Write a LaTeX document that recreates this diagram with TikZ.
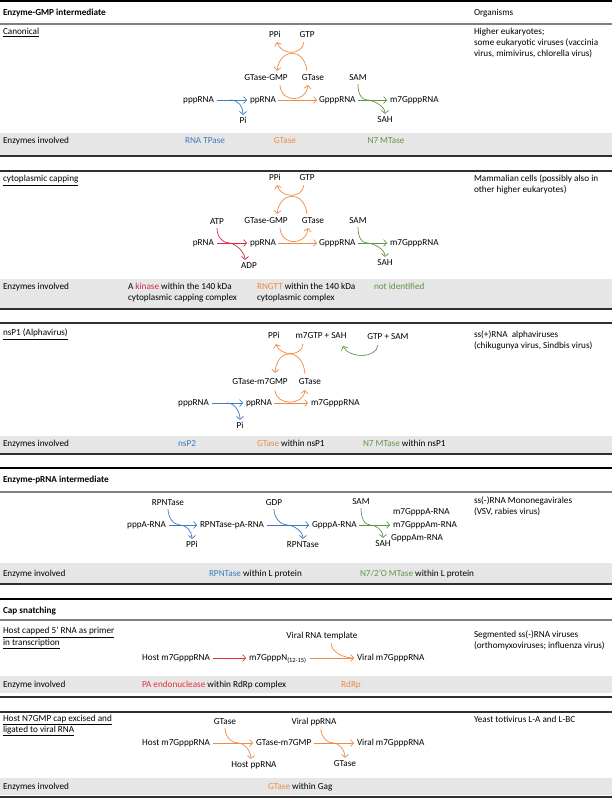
\documentclass[tikz,border=0pt]{standalone}
\usepackage{fontspec}
\setmainfont{Carlito}
\usetikzlibrary{arrows.meta}
\definecolor{cblue}{HTML}{3E7BC1}
\definecolor{corange}{HTML}{EE8A45}
\definecolor{cgreen}{HTML}{5F9548}
\definecolor{cred}{HTML}{E8303A}
\definecolor{ckin}{HTML}{D22C4A}
\definecolor{bandc}{HTML}{E6E6E6}
\definecolor{midc}{HTML}{808080}
\definecolor{rulec}{HTML}{303030}
\newcommand\fsz{\fontsize{9.2}{11.2}\selectfont}
\begin{document}
\begin{tikzpicture}[x=1pt,y=-1pt,
  base/.style={inner sep=0pt, outer sep=0pt, font=\fsz},
  lbl/.style={base, text height=7pt, text depth=1.2pt},
  lt/.style={lbl, anchor=west},
  ltm/.style={base, anchor=west, align=left},
  hd/.style={lt, font=\fsz\bfseries},
  arr/.style={line width=0.7pt, -{Straight Barb[length=3pt,width=7pt]}},
  ln/.style={line width=0.7pt},
  rulek/.style={line width=1.2pt, draw=black},
  ruleg/.style={line width=1.2pt, draw=midc},
  ruled/.style={line width=1.2pt, draw=rulec},
]
\useasboundingbox (0,0) rectangle (612,799);
\fill[white] (0,0) rectangle (612,799);

% ================= Section 1 =================
\fill[bandc] (0,133) rectangle (612,155);
\draw[rulek] (0,1) -- (612,1);
\node[hd] (h1) at (3,13) {Enzyme-GMP intermediate};
\node[lt] (orgh) at (474,13) {Organisms};
\draw[ruleg] (0,24) -- (612,24);
\node[lt] (t1) at (3,32) {\underline{Canonical}};
\node[ltm] (o1) at (474,43) {Higher eukaryotes;\\some eukaryotic viruses (vaccinia\\virus, mimivirus, chlorella virus)};

\node[lbl, anchor=east] (a1) at (214,100) {pppRNA};
\node[lbl, anchor=west] (b1) at (250,100) {ppRNA};
\node[lbl] (pi1) at (243,121) {Pi};
\node[lbl] (ppi1) at (275,35) {PPi};
\node[lbl] (gtp1) at (307,35) {GTP};
\node[lbl] (gg1) at (266,78) {GTase-GMP};
\node[lbl] (gt1) at (313,78) {GTase};
\node[lbl, anchor=west] (c1) at (319,100) {GpppRNA};
\node[lbl] (sam1) at (358,78) {SAM};
\node[lbl, anchor=west] (d1) at (390,100) {m7GpppRNA};
\node[lbl] (sah1) at (385,120) {SAH};
\coordinate (sm1) at (367,100);

\draw[arr, cblue] ([xshift=3pt]a1.east) -- ([xshift=-3pt]b1.west);
\draw[arr, cblue] ([xshift=-20pt]b1.west) .. controls +(9,0) and +(0,-8) .. ([yshift=2pt]pi1.north);
\draw[arr, corange] ([xshift=2pt]b1.east) -- ([xshift=-2pt]c1.west);
\draw[arr, corange] ([shift={(-3,3)}]gtp1.south) .. controls +(-2,14) and +(4,13) .. ([shift={(2,3)}]ppi1.south);
\draw[arr, corange] ([shift={(-6,-3)}]gt1.north) .. controls +(-3,-24) and +(3,-23) .. ([shift={(11,-3)}]gg1.north);
\draw[arr, corange] ([shift={(14,3)}]gg1.south) .. controls +(1,18) and +(-2,18) .. ([shift={(-5,3)}]gt1.south);
\draw[arr, cgreen] ([xshift=2pt]c1.east) -- ([xshift=-3pt]d1.west);
\draw[arr, cgreen] ([yshift=-2pt]sam1.south) .. controls +(0,9) and +(-6,0) .. (sm1) .. controls +(6,0) and +(0,-8) .. ([yshift=2pt]sah1.north);

\node[lt] (e1) at (3,141) {Enzymes involved};
\node[lbl, text=cblue] (e1a) at (205,141) {RNA TPase};
\node[lbl, text=corange] (e1b) at (285,141) {GTase};
\node[lbl, text=cgreen] (e1c) at (386,141) {N7 MTase};
\draw[ruled] (0,156) -- (612,156);

% ================= Section 2 =================
\fill[bandc] (0,279) rectangle (612,308);
\draw[ruled] (0,171) -- (612,171);
\node[lt] (t2) at (3,179) {\underline{cytoplasmic capping}};
\node[ltm] (o2) at (474,184.5) {Mammalian cells (possibly also in\\other higher eukaryotes)};

\node[lbl] (atp2) at (217,222) {ATP};
\node[lbl, anchor=east] (a2) at (214,243) {pRNA};
\node[lbl, anchor=west] (b2) at (250,243) {ppRNA};
\node[lbl] (adp2) at (249,266) {ADP};
\node[lbl] (ppi2) at (275,178) {PPi};
\node[lbl] (gtp2) at (307,178) {GTP};
\node[lbl] (gg2) at (266,221) {GTase-GMP};
\node[lbl] (gt2) at (313,221) {GTase};
\node[lbl, anchor=west] (c2) at (319,243) {GpppRNA};
\node[lbl] (sam2) at (358,221) {SAM};
\node[lbl, anchor=west] (d2) at (390,243) {m7GpppRNA};
\node[lbl] (sah2) at (385,263) {SAH};
\coordinate (km2) at (229,243);
\coordinate (sm2) at (367,243);

\draw[arr, ckin] ([xshift=3pt]a2.east) -- ([xshift=-3pt]b2.west);
\draw[arr, ckin] ([yshift=-2pt]atp2.south) .. controls +(0,9) and +(-6,0) .. (km2) .. controls +(6,0) and +(0,-8) .. ([shift={(-4,-2)}]adp2.north);
\draw[arr, corange] ([xshift=2pt]b2.east) -- ([xshift=-2pt]c2.west);
\draw[arr, corange] ([shift={(-3,3)}]gtp2.south) .. controls +(-2,14) and +(4,13) .. ([shift={(2,3)}]ppi2.south);
\draw[arr, corange] ([shift={(-6,-3)}]gt2.north) .. controls +(-3,-24) and +(3,-23) .. ([shift={(11,-3)}]gg2.north);
\draw[arr, corange] ([shift={(14,3)}]gg2.south) .. controls +(1,18) and +(-2,18) .. ([shift={(-5,3)}]gt2.south);
\draw[arr, cgreen] ([xshift=2pt]c2.east) -- ([xshift=-3pt]d2.west);
\draw[arr, cgreen] ([yshift=-2pt]sam2.south) .. controls +(0,9) and +(-6,0) .. (sm2) .. controls +(6,0) and +(0,-8) .. ([yshift=2pt]sah2.north);

\node[lt] (e2) at (3,287) {Enzymes involved};
\node[ltm] (e2a) at (128,292.5) {A \textcolor{ckin}{kinase} within the 140 kDa\\cytoplasmic capping complex};
\node[ltm] (e2b) at (257,292.5) {\textcolor{corange}{RNGTT} within the 140 kDa\\cytoplasmic complex};
\node[lt, text=cgreen] (e2c) at (374,287) {not identified};
\draw[ruled] (0,309) -- (612,309);

% ================= Section 3 =================
\fill[bandc] (0,436) rectangle (612,453);
\draw[ruled] (0,323) -- (612,323);
\node[lt] (t3) at (3,333) {\underline{nsP1 (Alphavirus)}};
\node[ltm] (o3) at (474,340.5) {ss(+)RNA\ \ alphaviruses\\(chikugunya virus, Sindbis virus)};

\node[lbl] (ppi3) at (274,336) {PPi};
\node[lbl] (mgs3) at (321,336) {m7GTP + SAH};
\node[lbl] (gs3) at (388,337) {GTP + SAM};
\node[lbl] (gg3) at (260,382) {GTase-m7GMP};
\node[lbl] (gt3) at (310,382) {GTase};
\node[lbl, anchor=east] (a3) at (209,403) {pppRNA};
\node[lbl, anchor=west] (b3) at (246,403) {ppRNA};
\node[lbl] (pi3) at (240,426) {Pi};
\node[lbl, anchor=west] (c3) at (311,403) {m7GpppRNA};

\draw[arr, cblue] ([xshift=3pt]a3.east) -- ([xshift=-3pt]b3.west);
\draw[arr, cblue] ([xshift=-19pt]b3.west) .. controls +(8,0) and +(0,-8) .. ([yshift=2pt]pi3.north);
\draw[arr, corange] ([xshift=2pt]b3.east) -- ([xshift=-3pt]c3.west);
\draw[arr, corange] ([shift={(-18,4)}]mgs3.south) .. controls +(-1,13) and +(4,12) .. ([shift={(2,4)}]ppi3.south);
\draw[arr, corange] ([shift={(-5,-4)}]gt3.north) .. controls +(-2,-26) and +(2,-26) .. ([shift={(15,-5)}]gg3.north);
\draw[arr, corange] ([shift={(15,4)}]gg3.south) .. controls +(1,16) and +(-2,16) .. ([shift={(-5,4)}]gt3.south);
\draw[arr, cgreen] ([shift={(-10,4)}]gs3.south) .. controls +(-2,14) and +(6,12) .. ([shift={(22,6)}]mgs3.south);

\node[lt] (e3) at (3,444) {Enzymes involved};
\node[lbl, text=cblue] (e3a) at (187,444) {nsP2};
\node[lt] (e3b) at (257,444) {\textcolor{corange}{GTase} within nsP1};
\node[lt] (e3c) at (363,444) {\textcolor{cgreen}{N7 MTase} within nsP1};
\draw[ruled] (0,454) -- (612,454);

% ================= Section 4 =================
\fill[bandc] (0,563) rectangle (612,583);
\draw[rulek] (0,468) -- (612,468);
\node[hd] (h4) at (3,480) {Enzyme-pRNA intermediate};
\draw[ruleg] (0,492) -- (612,492);
\node[ltm] (o4) at (474,506.5) {ss(-)RNA Mononegavirales\\(VSV, rabies virus)};

\node[lbl] (rp4) at (168,503) {RPNTase};
\node[lbl, anchor=east] (a4) at (166,525) {pppA-RNA};
\node[lbl, anchor=west] (b4) at (200,525) {RPNTase-pA-RNA};
\node[lbl] (ppi4) at (192,545) {PPi};
\node[lbl] (gdp4) at (274,503) {GDP};
\node[lbl] (rpb4) at (303,545) {RPNTase};
\node[lbl, anchor=west] (c4) at (312,525) {GpppA-RNA};
\node[lbl] (sam4) at (361,502) {SAM};
\node[lbl] (sah4) at (383,544) {SAH};
\node[lbl, anchor=west] (d4a) at (393,512) {m7GpppA-RNA};
\node[lbl, anchor=west] (d4b) at (393,525) {m7GpppAm-RNA};
\node[lbl, anchor=west] (d4c) at (391,537.5) {GpppAm-RNA};
\coordinate (rm4) at (180,525);
\coordinate (gm4) at (287,525);
\coordinate (sm4) at (370,525);

\draw[arr, cblue] ([xshift=3pt]a4.east) -- ([xshift=-3pt]b4.west);
\draw[arr, cblue] ([yshift=-2pt]rp4.south) .. controls +(0,9) and +(-6,0) .. (rm4) .. controls +(6,0) and +(0,-8) .. ([yshift=2pt]ppi4.north);
\draw[arr, cblue] ([xshift=3pt]b4.east) -- ([xshift=-3pt]c4.west);
\draw[arr, cblue] ([yshift=-2pt]gdp4.south) .. controls +(0,9) and +(-6,0) .. (gm4) .. controls +(6,0) and +(0,-8) .. ([yshift=2pt]rpb4.north);
\draw[arr, cgreen] ([xshift=2pt]c4.east) -- ([xshift=-3pt]d4b.west);
\draw[arr, cgreen] ([yshift=-2pt]sam4.south) .. controls +(0,9) and +(-6,0) .. (sm4) .. controls +(6,0) and +(0,-8) .. ([yshift=2pt]sah4.north);

\node[lt] (e4) at (3,574) {Enzyme involved};
\node[lt] (e4a) at (209,574) {\textcolor{cblue}{RPNTase} within L protein};
\node[lt] (e4b) at (360,574) {\textcolor{cgreen}{N7/2’O MTase} within L protein};
\draw[ruled] (0,584) -- (612,584);

% ================= Section 5 =================
\fill[bandc] (0,676) rectangle (612,693);
\draw[rulek] (0,599) -- (612,599);
\node[hd] (h5) at (3,611) {Cap snatching};
\draw[ruleg] (0,620) -- (612,620);
\node[ltm] (t5) at (3,638) {\underline{Host capped 5’ RNA as primer}\\\underline{in transcription}};
\node[ltm] (o5) at (474,640.5) {Segmented ss(-)RNA viruses\\(orthomyxoviruses; influenza virus)};

\node[lbl] (vt5) at (322,636) {Viral RNA template};
\node[lbl, anchor=east] (h5a) at (210,658) {Host m7GpppRNA};
\node[lbl, anchor=west] (n5) at (249,658) {m7GpppN\textsubscript{(12-15)}};
\node[lbl, anchor=west] (v5) at (357,658) {Viral m7GpppRNA};

\draw[arr, cred] ([xshift=3pt]h5a.east) -- ([xshift=-3pt]n5.west);
\draw[arr, corange] ([xshift=3pt]n5.east) -- ([xshift=-3pt]v5.west);
\draw[ln, corange] ([shift={(9,3)}]vt5.south) .. controls +(0,9) and +(-9,0) .. ([xshift=-4pt]v5.west);

\node[lt] (e5) at (3,685) {Enzyme involved};
\node[lt] (e5a) at (142,685) {\textcolor{cred}{PA endonuclease} within RdRp complex};
\node[lbl, text=corange] (e5b) at (351,685) {RdRp};
\draw[ruled] (0,697) -- (612,697);

% ================= Section 6 =================
\fill[bandc] (0,778) rectangle (612,795);
\draw[ruled] (0,712) -- (612,712);
\node[ltm] (t6) at (3,725.5) {\underline{Host N7GMP cap excised and}\\\underline{ligated to viral RNA}};
\node[lt] (o6) at (474,720) {Yeast totivirus L-A and L-BC};

\node[lbl] (gt6) at (225,722) {GTase};
\node[lbl, anchor=east] (h6) at (210,743) {Host m7GpppRNA};
\node[lbl, anchor=west] (g6) at (256,743) {GTase-m7GMP};
\node[lbl] (hp6) at (254,765) {Host ppRNA};
\node[lbl] (vp6) at (314,722) {Viral ppRNA};
\node[lbl, anchor=west] (v6) at (357,743) {Viral m7GpppRNA};
\node[lbl] (gt6b) at (345,764) {GTase};
\coordinate (gm6) at (238,743);
\coordinate (vm6) at (333,743);

\draw[arr, corange] ([xshift=3pt]h6.east) -- ([xshift=-3pt]g6.west);
\draw[arr, corange] ([yshift=-2pt]gt6.south) .. controls +(0,9) and +(-6,0) .. (gm6) .. controls +(6,0) and +(0,-8) .. ([shift={(-3,-2)}]hp6.north);
\draw[arr, corange] ([xshift=3pt]g6.east) -- ([xshift=-3pt]v6.west);
\draw[arr, corange] ([shift={(7,3)}]vp6.south) .. controls +(0,8) and +(-6,0) .. (vm6) .. controls +(6,0) and +(0,-8) .. ([yshift=2pt]gt6b.north);

\node[lt] (e6) at (3,787) {Enzymes involved};
\node[lt] (e6a) at (268,787) {\textcolor{corange}{GTase} within Gag};
\draw[ruled] (0,797) -- (612,797);
\end{tikzpicture}
\end{document}
